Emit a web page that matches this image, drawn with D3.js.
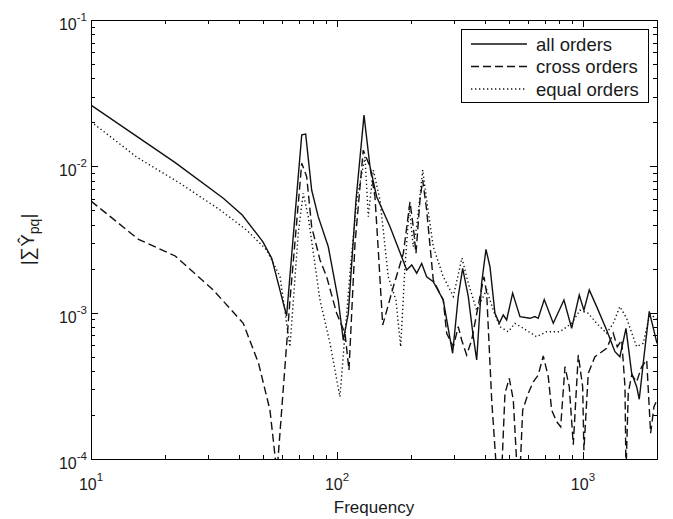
<!DOCTYPE html>
<html>
<head>
<meta charset="utf-8">
<script src="https://cdnjs.cloudflare.com/ajax/libs/d3/7.8.5/d3.min.js"></script>
<style>
  body { margin: 0; background: #fff; }
  text { font-family: "Liberation Sans", Arial, Helvetica, sans-serif; fill: #1a1a1a; }
  .axis path, .axis line { stroke: #000; shape-rendering: crispEdges; }
</style>
</head>
<body>
<svg id="plot" width="673" height="519"></svg>
<script>
// values: [frequency, |sum Y_pq|]
const allOrders = [
  [10, 2.62e-2], [22, 1.06e-2], [34.5, 6.05e-3], [41.2, 4.65e-3], [50, 3.05e-3], [54.3, 2.35e-3],
  [62.4, 9.5e-4], [71.9, 1.64e-2], [74.6, 1.66e-2], [78.9, 6.89e-3], [83.9, 4.53e-3], [92.2, 2.82e-3],
  [101.2, 1.22e-3], [106.1, 6.5e-4], [111.2, 9.9e-4], [119.5, 5.89e-3], [128.8, 2.24e-2], [136.2, 9.94e-3],
  [145, 6.2e-3], [164.3, 3.87e-3], [192.1, 1.96e-3], [201.3, 2.12e-3], [210.9, 1.86e-3], [221, 2.17e-3],
  [231.5, 1.76e-3], [246.3, 1.63e-3], [270.4, 1.22e-3], [295.2, 5.28e-4], [311.2, 1.29e-3], [324.3, 2.01e-3],
  [341.8, 1.29e-3], [358.2, 6.85e-4], [369.8, 4.75e-4], [387.3, 1.59e-3], [403.4, 2.71e-3], [418.8, 2.06e-3],
  [438.8, 9.9e-4], [457, 8.46e-4], [474.3, 9.64e-4], [489.6, 8.91e-4], [517.8, 1.36e-3], [554.6, 9.4e-4],
  [609, 9.15e-4], [638, 9.4e-4], [658, 9.15e-4], [696, 1.23e-3], [757.5, 8.46e-4], [837, 1.22e-3],
  [899.5, 7.82e-4], [966, 1.32e-3], [1009, 1.04e-3], [1061, 1.43e-3], [1137, 1.1e-3], [1248, 7.61e-4],
  [1349, 5.41e-4], [1413, 5.0e-4], [1496, 7.82e-4], [1578, 3.85e-4], [1653, 3.12e-4], [1694, 2.56e-4],
  [1770, 5.0e-4], [1860, 1.02e-3], [2000, 6.17e-4]
]
const crossOrders = [
  [10, 5.79e-3], [15.6, 3.17e-3], [22, 2.44e-3], [31.4, 1.43e-3], [41.6, 8.46e-4], [48, 4.5e-4],
  [53.4, 2.16e-4], [57, 8e-5], [64.4, 1.22e-3], [71.9, 1.05e-2], [75.3, 8.5e-3], [78.9, 3.87e-3],
  [85.3, 2.29e-3], [90.8, 1.76e-3], [99.7, 9.9e-4], [107.8, 7.23e-4], [111.9, 4.06e-4], [118.4, 2.98e-3],
  [127.9, 1.29e-2], [136.2, 9.94e-3], [142.7, 6.2e-3], [147.2, 2.68e-3], [153.4, 8.23e-4], [169.4, 1.5e-3],
  [186.1, 2.54e-3], [198.1, 5.73e-3], [204.2, 3.87e-3], [209.5, 2.54e-3], [217.5, 5.89e-3], [223.1, 8.06e-3],
  [231.5, 5.03e-3], [246.3, 1.67e-3], [270.4, 1.22e-3], [279.2, 7.23e-4], [297.1, 5.85e-4], [311.2, 8.02e-4],
  [321.3, 6.5e-4], [336.6, 5.14e-4], [352.9, 6.5e-4], [381.4, 1.29e-3], [396, 1.76e-3], [406, 1.36e-3],
  [425.6, 2.53e-4], [445.9, 8e-5], [467.2, 8e-5], [481.9, 2.81e-4], [501.8, 3.56e-4], [521, 2.53e-4],
  [540.7, 8e-5], [554.6, 8e-5], [568.8, 2.16e-4], [599.3, 2.81e-4], [628.1, 3.37e-4], [658, 3.75e-4],
  [689.6, 5.06e-4], [722.8, 3.65e-4], [746.1, 2.16e-4], [781.7, 1.8e-4], [811.7, 1.66e-4], [845.1, 4.27e-4],
  [879.8, 3.12e-4], [913.4, 1.25e-4], [957.2, 5.14e-4], [997.3, 3.12e-4], [1009, 1.15e-4], [1051, 3.85e-4],
  [1119, 5.0e-4], [1248, 5.7e-4], [1328, 7.23e-4], [1379, 5.85e-4], [1437, 6.5e-4], [1482, 3.12e-4],
  [1496, 8e-5], [1528, 2.81e-4], [1578, 3.75e-4], [1653, 3.37e-4], [1732, 4.27e-4], [1816, 4.75e-4],
  [1884, 1.5e-4], [1944, 2.28e-4], [2000, 2.53e-4]
]
const equalOrders = [
  [10, 2.02e-2], [15.3, 1.16e-2], [23, 7.66e-3], [33.5, 5.03e-3], [42.9, 3.67e-3], [51.8, 2.68e-3],
  [58.7, 1.76e-3], [64.4, 5.85e-4], [69.6, 3.49e-3], [72.9, 6.54e-3], [76.4, 4.53e-3], [85.3, 1.22e-3],
  [93.7, 6.17e-4], [102.8, 2.66e-4], [112.9, 1.86e-3], [120.3, 5.89e-3], [130, 1.16e-2], [134.1, 4.53e-3],
  [140.5, 9.44e-3], [149.6, 5.89e-3], [161.6, 1.76e-3], [173.7, 1.22e-3], [181.5, 5.85e-4], [189, 2.06e-3],
  [196.8, 5.3e-3], [204.2, 2.82e-3], [210.9, 3.87e-3], [223.1, 9.44e-3], [231.5, 5.89e-3], [246.3, 2.82e-3],
  [270.4, 1.76e-3], [279.2, 1.59e-3], [297.1, 1.29e-3], [322.2, 2.36e-3], [341.8, 1.59e-3], [369.8, 1.04e-3],
  [387.3, 1.22e-3], [406, 1.43e-3], [431.9, 1.04e-3], [459.8, 8.02e-4], [496.8, 7.41e-4], [529.1, 8.46e-4],
  [571.9, 7.82e-4], [648.3, 6.85e-4], [711.9, 7.41e-4], [806.3, 7.41e-4], [899.5, 8.46e-4], [972.2, 1.04e-3],
  [1051, 9.9e-4], [1137, 8.46e-4], [1248, 7.23e-4], [1328, 8.46e-4], [1413, 1.1e-3], [1505, 9.15e-4],
  [1653, 5.85e-4], [1758, 6.17e-4], [1873, 9.9e-4], [2000, 8.91e-4]
]
const xTicks = [10, 100, 1000]
const yTicks = [1e-4, 1e-3, 1e-2, 1e-1]
const legendLabels = ['all orders', 'cross orders', 'equal orders']

const dashes = [null, '8,4', '1.3,2.7']
const seriesList = [allOrders, crossOrders, equalOrders]

let svg = d3.select('#plot')
const pLeft = 91, pRight = 657, pTop = 20, pBottom = 459

let x = d3.scaleLog().domain([10, 2000]).range([pLeft, pRight])
let y = d3.scaleLog().domain([1e-4, 1e-1]).range([pBottom, pTop])

// minor ticks 2..9 in every decade
const minorX = [], minorY = []
xTicks.forEach(d => { for (let k = 2; k < 10; k++) if (d * k < 2000) minorX.push(d * k) })
yTicks.slice(0, 3).forEach(d => { for (let k = 2; k < 10; k++) minorY.push(d * k) })

const drawAxis = (axisFn, scale, values, size, transform) => {
  svg.append('g').attr('class', 'axis').attr('transform', transform)
    .call(axisFn(scale).tickValues(values).tickSize(size).tickFormat(''))
    .call(g => g.select('.domain').remove())
}
drawAxis(d3.axisBottom, x, xTicks, -7, `translate(0,${pBottom})`)
drawAxis(d3.axisBottom, x, minorX, -4, `translate(0,${pBottom})`)
drawAxis(d3.axisTop, x, xTicks, -7, `translate(0,${pTop})`)
drawAxis(d3.axisTop, x, minorX, -4, `translate(0,${pTop})`)
drawAxis(d3.axisLeft, y, yTicks, -7, `translate(${pLeft},0)`)
drawAxis(d3.axisLeft, y, minorY, -4, `translate(${pLeft},0)`)
drawAxis(d3.axisRight, y, yTicks, -7, `translate(${pRight},0)`)
drawAxis(d3.axisRight, y, minorY, -4, `translate(${pRight},0)`)

svg.append('rect').attr('x', pLeft).attr('y', pTop).attr('width', pRight - pLeft).attr('height', pBottom - pTop)
  .attr('fill', 'none').attr('stroke', '#000').attr('shape-rendering', 'crispEdges')

// tick labels as 10^n
xTicks.forEach(v => {
  let t = svg.append('text').attr('x', x(v)).attr('y', pBottom + 31).attr('text-anchor', 'middle').style('font-size', '16px')
  t.append('tspan').text('10')
  t.append('tspan').attr('dy', -9).style('font-size', '11.5px').text(Math.round(Math.log10(v)))
})
yTicks.forEach(v => {
  let t = svg.append('text').attr('x', pLeft - 4).attr('y', y(v) + 10).attr('text-anchor', 'end').style('font-size', '16px')
  t.append('tspan').text('10')
  t.append('tspan').attr('dy', -9).style('font-size', '11.5px').text(Math.round(Math.log10(v)))
})

svg.append('text').attr('x', (pLeft + pRight) / 2).attr('y', 513).attr('text-anchor', 'middle')
  .style('font-size', '17px').text('Frequency')

let yl = svg.append('text').attr('transform', `translate(34,${(pTop + pBottom) / 2}) rotate(-90)`)
  .attr('text-anchor', 'middle').style('font-size', '19px')
yl.append('tspan').text('|∑Ŷ')
yl.append('tspan').attr('dy', 5).style('font-size', '14px').text('pq')
yl.append('tspan').attr('dy', -5).text('|')

// curves, clipped to the axes box
svg.append('clipPath').attr('id', 'clip').append('rect')
  .attr('x', pLeft).attr('y', pTop).attr('width', pRight - pLeft).attr('height', pBottom - pTop)
let line = d3.line().x(d => x(d[0])).y(d => y(d[1]))
seriesList.forEach((s, i) => {
  svg.append('path').datum(s).attr('d', line).attr('clip-path', 'url(#clip)')
    .attr('fill', 'none').attr('stroke', '#111').attr('stroke-width', 1.4)
    .attr('stroke-dasharray', dashes[i])
})

// legend
let lg = svg.append('g')
lg.append('rect').attr('x', 461).attr('y', 29).attr('width', 187).attr('height', 73)
  .attr('fill', '#fff').attr('stroke', '#000').attr('shape-rendering', 'crispEdges')
legendLabels.forEach((label, i) => {
  let ly = 44 + i * 22.5
  lg.append('line').attr('x1', 471).attr('x2', 527).attr('y1', ly).attr('y2', ly)
    .attr('stroke', '#111').attr('stroke-width', 1.4).attr('stroke-dasharray', dashes[i])
  lg.append('text').attr('x', 536).attr('y', ly + 6.5).style('font-size', '18.5px').text(label)
})
</script>
</body>
</html>
